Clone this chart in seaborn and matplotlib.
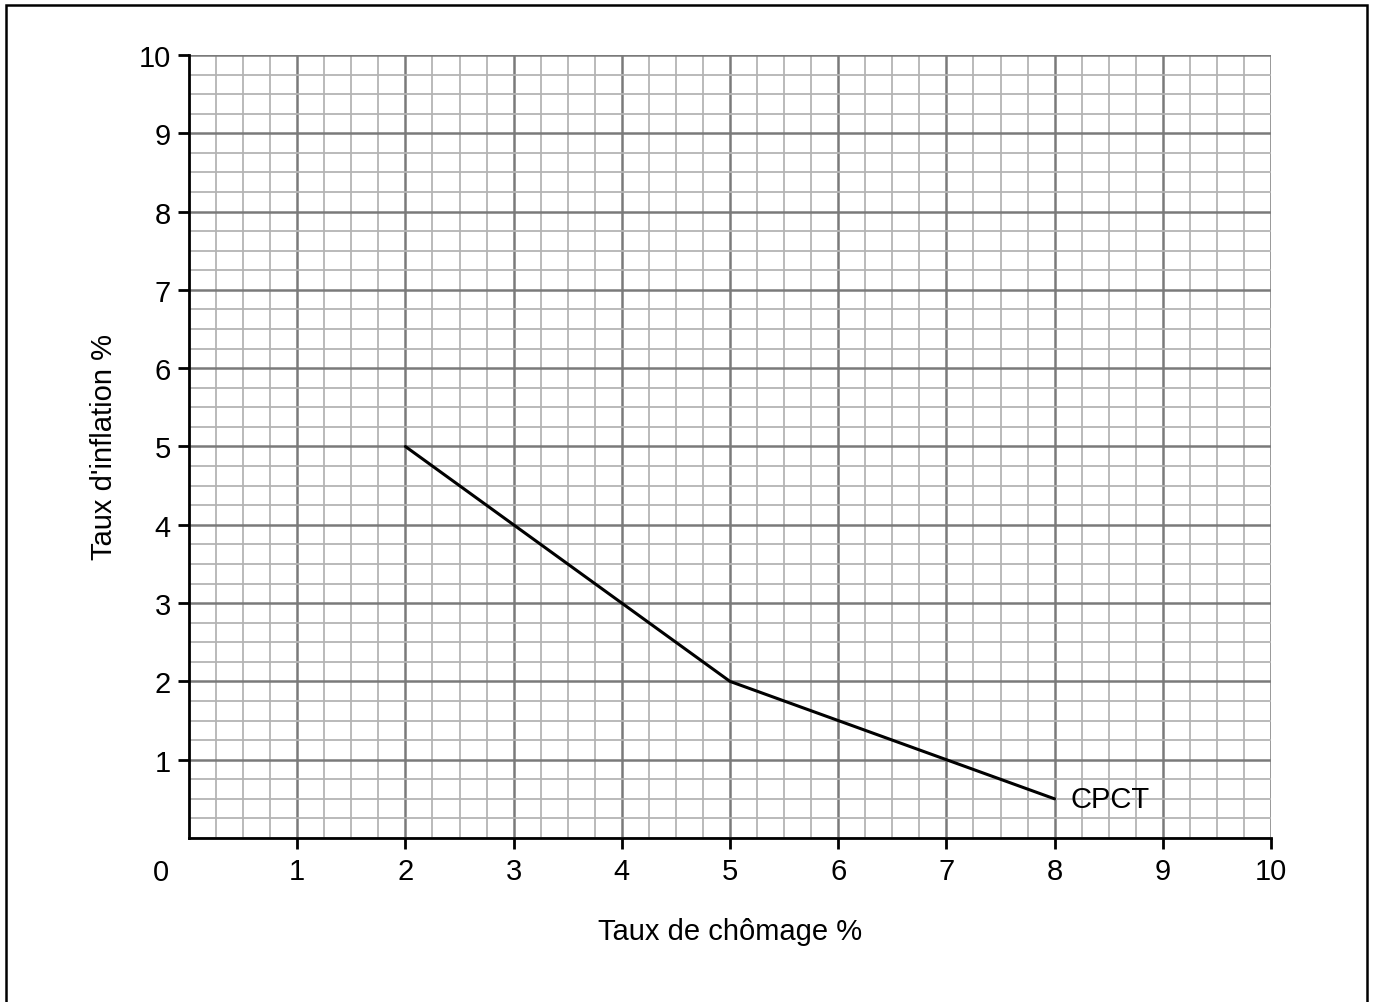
import matplotlib
matplotlib.use('Agg')
import numpy as np
import pandas as pd
import matplotlib.pyplot as plt
import seaborn as sns
from matplotlib.patches import Rectangle
from matplotlib.ticker import MultipleLocator

# Phillips curve (CPCT) points
chomage = [2, 3, 4, 5, 6, 7, 8]
inflation = [5, 4, 3, 2, 1.5, 1, 0.5]
ticks = [1, 2, 3, 4, 5, 6, 7, 8, 9, 10]

sns.set_style('white')
plt.rcParams['font.family'] = ['Liberation Sans', 'DejaVu Sans']
plt.rcParams['text.color'] = 'black'
plt.rcParams['axes.labelcolor'] = 'black'
plt.rcParams['xtick.color'] = 'black'
plt.rcParams['ytick.color'] = 'black'

fs = 21
df = pd.DataFrame({'chomage': chomage, 'inflation': inflation})

fig = plt.figure(figsize=(13.75, 10.03), dpi=100)
ax = fig.add_axes([189 / 1375, 1 - 839 / 1003, (1271 - 189) / 1375, (839 - 56) / 1003])

sns.lineplot(x='chomage', y='inflation', data=df, color='black', linewidth=2.2, ax=ax, zorder=5)

ax.set_xlim(0, 10)
ax.set_ylim(0, 10)
ax.set_xticks(ticks)
ax.set_yticks(ticks)
ax.xaxis.set_minor_locator(MultipleLocator(0.25))
ax.yaxis.set_minor_locator(MultipleLocator(0.25))
ax.grid(which='minor', color='#b4b4b4', linewidth=1.3, zorder=0)
ax.grid(which='major', color='#7a7a7a', linewidth=1.8, zorder=1)
ax.set_axisbelow(True)
ax.tick_params(which='minor', length=0)
ax.tick_params(which='major', direction='out', length=8, width=2, color='black',
               labelsize=fs, labelcolor='black', bottom=True, left=True)
ax.tick_params(axis='x', pad=6)
ax.tick_params(axis='y', pad=5)

for side in ['top', 'right']:
    ax.spines[side].set_visible(False)
for side in ['left', 'bottom']:
    ax.spines[side].set_color('black')
    ax.spines[side].set_linewidth(2)

ax.set_xlabel('Taux de chômage %', fontsize=fs, labelpad=23)
ax.set_ylabel("Taux d'inflation %", fontsize=fs, labelpad=15)
ax.text(-0.26, -0.44, '0', fontsize=fs, ha='center', va='center', clip_on=False)
ax.text(8.15, 0.5, 'CPCT', fontsize=fs, ha='left', va='center', zorder=6)

# page frame (open at the bottom edge)
fig.patches.append(Rectangle((6 / 1375, -0.01), (1367 - 6) / 1375, 1 - 6 / 1003 + 0.01,
                             transform=fig.transFigure, fill=False,
                             edgecolor='black', linewidth=1.8))

fig.savefig('out.png', dpi=100)
